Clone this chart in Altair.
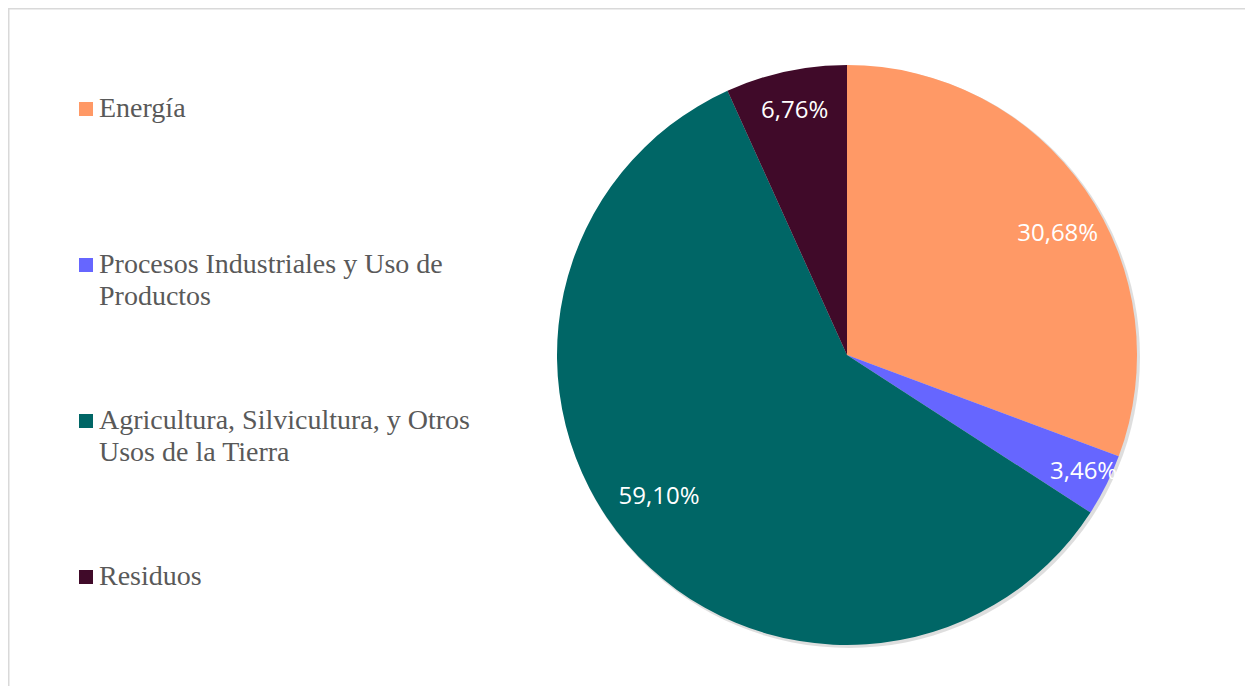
import altair as alt
import pandas as pd

cats = ["Energía",
        "Procesos Industriales y Uso de Productos",
        "Agricultura, Silvicultura, y Otros Usos de la Tierra",
        "Residuos"]
values = [30.68, 3.46, 59.10, 6.76]
labels = ["30,68%", "3,46%", "59,10%", "6,76%"]
line1 = ["Energía", "Procesos Industriales y Uso de", "Agricultura, Silvicultura, y Otros", "Residuos"]
line2 = ["", "Productos", "Usos de la Tierra", ""]
colors = ["#FF9966", "#6666FF", "#006666", "#400A29"]

df = pd.DataFrame({
    "cat": cats,
    "value": values,
    "label": labels,
    "line1": line1,
    "line2": line2,
    "order": list(range(len(cats))),
})
one = pd.DataFrame({"a": [0]})

CX, CY, R = 839, 347, 290

color = alt.Color("cat:N", scale=alt.Scale(domain=cats, range=colors), legend=None)
theta = alt.Theta("value:Q", stack=True)
order = alt.Order("order:Q")

border = alt.Chart(one).mark_rect(fillOpacity=0, stroke="#D9D9D9", strokeWidth=3).encode(
    x=alt.value(0), x2=alt.value(1600), y=alt.value(0), y2=alt.value(1000)
)

shadow = alt.Chart(one).mark_arc(outerRadius=R + 1, color="#000000", opacity=0.13).encode(
    theta=alt.value(0), theta2=alt.value(6.2832),
    x=alt.value(CX + 2), y=alt.value(CY + 2)
)

arcs = alt.Chart(df).mark_arc(outerRadius=R).encode(
    theta=theta, color=color, order=order,
    x=alt.value(CX), y=alt.value(CY)
)

# label nudges (style only), like Excel's best-fit placement
nudges = {0: (7, 20), 1: (15, 6), 2: (0, -20), 3: (0, -2)}
text_layers = []
for i, (ddx, ddy) in nudges.items():
    text_layers.append(
        alt.Chart(df).mark_text(radius=248, font="Open Sans", fontSize=24, color="white",
                                dx=ddx, dy=ddy).encode(
            theta=theta, order=order,
            text=alt.condition(f"datum.order == {i}", "label:N", alt.value("")),
            x=alt.value(CX), y=alt.value(CY)
        )
    )

ly = alt.Y("cat:N", scale=alt.Scale(type="point", domain=cats, range=[101, 569], padding=0), axis=None)

sym = alt.Chart(df).mark_point(shape="square", filled=True, size=196, opacity=1).encode(
    x=alt.value(78), y=ly, color=color
)
t1 = alt.Chart(df).mark_text(align="left", baseline="middle", font="Liberation Serif",
                             fontSize=28, color="#595959").encode(
    x=alt.value(91), y=ly, text="line1:N"
)
t2 = alt.Chart(df).mark_text(align="left", baseline="middle", font="Liberation Serif",
                             fontSize=28, color="#595959", dy=32).encode(
    x=alt.value(91), y=ly, text="line2:N"
)

chart = alt.layer(border, shadow, arcs, *text_layers, sym, t1, t2).properties(
    width=1237, height=678, autosize="none", padding=0, background="white"
).configure_view(stroke=None)

chart.save("out.html", embed_options={"renderer": "svg", "actions": False})
